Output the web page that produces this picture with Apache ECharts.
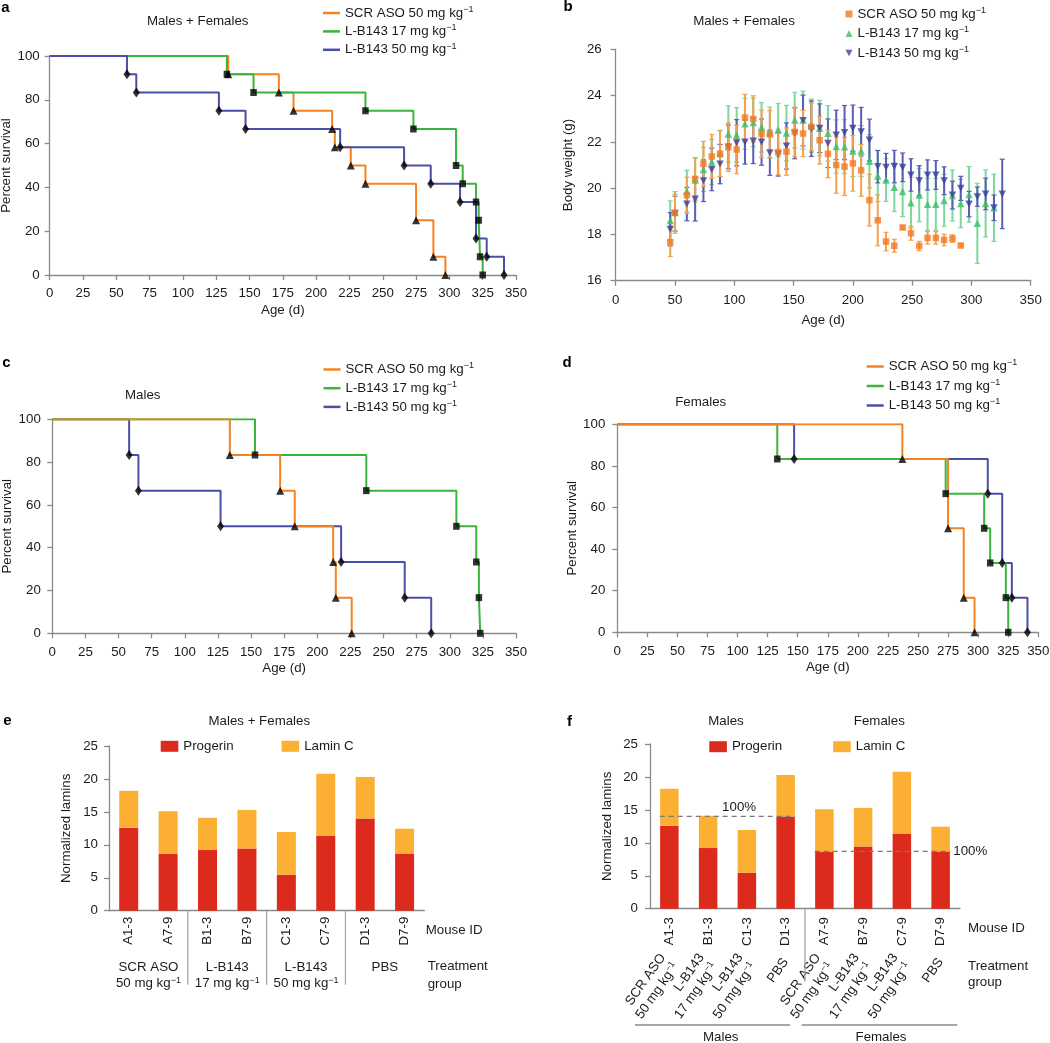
<!DOCTYPE html>
<html>
<head>
<meta charset="utf-8">
<title>Survival, body weight and lamin levels</title>
<script src="https://cdn.jsdelivr.net/npm/echarts@6/dist/echarts.min.js"></script>
<style>
html,body{margin:0;padding:0;background:#ffffff;width:1050px;height:1043px;overflow:hidden;}
.panel{position:absolute;left:0;top:0;width:1050px;height:1043px;}
</style>
</head>
<body>
<div id="pa" class="panel"></div>
<div id="pb" class="panel"></div>
<div id="pc" class="panel"></div>
<div id="pd" class="panel"></div>
<div id="pe" class="panel"></div>
<div id="pf" class="panel"></div>
<script>
// ================= DATA =================
// Group names (each followed by superscript "−1")
const groupNames = ['SCR ASO 50 mg kg', 'L-B143 17 mg kg', 'L-B143 50 mg kg'];

// Panel a: Males + Females survival (day of event, % surviving after event)
const kmAllScrDays = [0, 134, 172, 183, 212, 214, 226, 237, 275, 288, 297];
const kmAllScrSurv = [100, 91.67, 83.33, 75, 66.67, 58.33, 50, 41.67, 25, 8.33, 0];
const kmAllL17Days = [0, 133, 153, 237, 273, 305, 310, 320, 322, 323, 325];
const kmAllL17Surv = [100, 91.67, 83.33, 75, 66.67, 50, 41.67, 33.33, 25, 8.33, 0];
const kmAllL50Days = [0, 58, 65, 127, 147, 218, 266, 286, 308, 320, 328, 341];
const kmAllL50Surv = [100, 91.67, 83.33, 75, 66.67, 58.33, 50, 41.67, 33.33, 16.67, 8.33, 0];

// Panel c: Males survival
const kmMScrDays = [0, 134, 172, 183, 212, 214, 226];
const kmMScrSurv = [100, 83.33, 66.67, 50, 33.33, 16.67, 0];
const kmML17Days = [0, 153, 237, 305, 320, 322, 323];
const kmML17Surv = [100, 83.33, 66.67, 50, 33.33, 16.67, 0];
const kmML50Days = [0, 58, 65, 127, 218, 266, 286];
const kmML50Surv = [100, 83.33, 66.67, 50, 33.33, 16.67, 0];

// Panel d: Females survival
const kmFScrDays = [0, 237, 275, 288, 297];
const kmFScrSurv = [100, 83.33, 50, 16.67, 0];
const kmFL17Days = [0, 133, 273, 305, 310, 323, 325];
const kmFL17Surv = [100, 83.33, 66.67, 50, 33.33, 16.67, 0];
const kmFL50Days = [0, 147, 308, 320, 328, 341];
const kmFL50Surv = [100, 83.33, 66.67, 33.33, 16.67, 0];

// Panel b: body weight (g), mean and error half-width
const bwDays = [46,50,60,67,74,81,88,95,102,109,116,123,130,137,144,151,158,165,172,179,186,193,200,207,214,221,228,235,242,249,256,263,270,277,284,291,298,305,312,319,326];
const bwScrMean = [17.67,18.94,19.69,20.40,21.05,21.37,21.49,21.77,21.67,23.05,22.99,22.35,22.33,21.56,21.58,22.43,22.36,22.65,22.07,21.48,21.00,20.93,21.07,20.77,19.48,18.61,17.69,17.51,18.30,18.05,17.50,17.85,17.85,17.76,17.82,17.52];
const bwScrErr = [0.62,0.8,0.78,0.92,0.97,0.95,0.98,1.05,1.05,1.0,1.0,1.02,1.02,0.98,1.02,1.07,1.0,1.03,1.03,1.03,1.22,1.25,1.2,1.12,1.12,1.1,0.4,0.28,0.08,0.3,0.2,0.27,0.27,0.25,0.16,0.05];
const bwL17Mean = [18.60,18.95,19.87,20.35,20.81,21.13,21.50,22.34,22.30,22.78,22.84,22.63,22.40,22.51,22.38,22.94,22.94,22.70,22.59,22.37,21.80,21.79,21.60,21.60,21.16,20.52,20.35,20.04,19.85,19.37,19.70,19.30,19.30,19.47,19.68,19.34,19.73,18.48,19.34,19.15];
const bwL17Err = [0.85,0.9,0.9,0.95,0.95,0.98,1.0,1.22,1.18,1.1,1.05,1.07,1.1,1.15,1.2,1.2,1.25,1.15,1.2,1.2,1.15,1.17,1.1,1.1,1.15,1.1,0.92,1.05,1.08,1.1,1.15,1.12,1.12,1.12,1.1,1.05,1.2,1.73,1.45,1.45];
const bwL50Mean = [18.22,18.90,19.31,19.53,20.32,20.81,21.04,21.78,21.96,21.99,22.04,21.99,21.53,21.47,21.82,22.37,22.92,22.57,22.59,21.94,22.30,22.40,22.59,22.44,22.08,20.93,20.90,20.93,20.90,20.57,20.32,20.57,20.57,20.32,19.70,19.99,19.31,19.63,19.75,19.15,19.75];
const bwL50Err = [0.72,0.75,0.72,0.95,0.9,0.92,0.85,0.95,1.0,0.95,0.98,1.0,0.98,0.95,1.0,1.1,1.1,1.2,1.05,1.05,1.07,1.17,1.0,1.05,0.9,0.7,0.6,0.7,0.62,0.7,0.65,0.65,0.62,0.6,0.6,0.52,0.55,0.42,0.68,0.55,1.5];

// Panels e/f: normalized lamins
const mouseIds = ['A1-3', 'A7-9', 'B1-3', 'B7-9', 'C1-3', 'C7-9', 'D1-3', 'D7-9'];
const progerin = [12.6, 8.6, 9.2, 9.45, 5.45, 11.35, 14.0, 8.7];
const laminC = [5.6, 6.5, 4.9, 5.85, 6.5, 9.45, 6.3, 3.75];
const treatmentGroups = ['SCR ASO|50 mg kg', 'L-B143|17 mg kg', 'L-B143|50 mg kg', 'PBS'];
const mouseIdsBySex = ['A1-3', 'B1-3', 'C1-3', 'D1-3', 'A7-9', 'B7-9', 'C7-9', 'D7-9'];
const treatmentBySex = treatmentGroups.concat(treatmentGroups);

// ================= STYLE =================
const FONT = '"Liberation Sans", Arial, Helvetica, sans-serif';
const FS = 13.3;
const AX = '#8a8a8a';
const TXT = '#1b1b1b';
const C_SCR = '#F5821F', C_L17 = '#3BB43A', C_L50 = '#4A4EA8';

const richSup = {
  n: {fontSize: FS, fontFamily: FONT, color: TXT, lineHeight: 16},
  s: {fontSize: 9, fontFamily: FONT, color: TXT, lineHeight: 9, verticalAlign: 'top'}
};
const supFmt = n => '{n|' + n + '}{s|−1}';
const trtFmt = v => {
  const p = v.split('|');
  return p.length === 2 ? '{n|' + p[0] + '}\n{n|' + p[1] + '}{s|−1}' : '{n|' + v + '}';
};

function txt(x, y, text, extra) {
  return {type: 'text', x: x, y: y, silent: true, z: 50,
    style: Object.assign({text: text, fontSize: FS, fontFamily: FONT, fill: TXT, align: 'center', verticalAlign: 'middle'}, extra || {})};
}
function letter(x, y, t) { return txt(x, y, t, {fontWeight: 'bold', fontSize: 15, fill: '#000'}); }
function hline(x1, y1, x2, y2, color, w) {
  return {type: 'line', silent: true, z: 50, shape: {x1: x1, y1: y1, x2: x2, y2: y2}, style: {stroke: color, lineWidth: w}};
}

function valueAxis(o) {
  return Object.assign({
    type: 'value', min: o.min, max: o.max, interval: o.interval,
    axisLine: {show: true, onZero: false, lineStyle: {color: AX, width: 1.3}},
    axisTick: {show: true, inside: false, length: 5, lineStyle: {color: AX, width: 1.3}},
    axisLabel: {show: true, margin: o.margin, fontSize: FS, fontFamily: FONT, color: TXT, showMinLabel: true, showMaxLabel: true},
    splitLine: {show: false}, splitArea: {show: false},
    name: o.name, nameLocation: 'middle', nameGap: o.nameGap,
    nameTextStyle: {fontSize: FS, fontFamily: FONT, color: TXT}
  }, o.extra || {});
}
function gridOf(l, t, w, h) {
  return {left: l, top: t, width: w, height: h, containLabel: false, outerBoundsMode: 'none'};
}

// ================= KAPLAN–MEIER PANELS =================
function kmChart(id, cfg) {
  const ch = echarts.init(document.getElementById(id));
  const series = [];
  cfg.groups.forEach(g => {
    series.push({name: g.name, type: 'line', step: 'end', data: g.days.map((d, i) => [d, g.surv[i]]),
      symbol: 'none', color: g.color, lineStyle: {color: g.color, width: 2}, z: g.z, silent: true, animation: false});
  });
  cfg.groups.forEach(g => {
    series.push({name: g.name + ' events', type: 'scatter', data: g.days.slice(1).map((d, i) => [d, g.surv[i + 1]]),
      symbol: g.symbol, symbolSize: g.size, itemStyle: {color: '#000'}, z: 8, silent: true, animation: false});
  });
  ch.setOption({
    backgroundColor: 'transparent', animation: false,
    grid: gridOf(cfg.grid[0], cfg.grid[1], cfg.grid[2], cfg.grid[3]),
    xAxis: valueAxis({min: 0, max: 350, interval: 25, margin: cfg.xMargin, name: 'Age (d)', nameGap: cfg.xNameGap}),
    yAxis: valueAxis({min: 0, max: 100, interval: 20, margin: cfg.yMargin, name: 'Percent survival', nameGap: cfg.yNameGap}),
    legend: {orient: 'vertical', left: cfg.legend[0], top: cfg.legend[1], itemGap: cfg.legend[2], padding: 0,
      itemWidth: 17, itemHeight: 2.5, icon: 'rect', selectedMode: false, data: groupNames,
      formatter: supFmt, textStyle: {fontSize: FS, fontFamily: FONT, color: TXT, rich: richSup}},
    graphic: {elements: cfg.graphic},
    series: series
  });
}

const mk = (days, surv, name, color, symbol, size, z) => ({days, surv, name, color, symbol, size, z});

kmChart('pa', {
  grid: [49.7, 56, 466.3, 219], xMargin: 12, xNameGap: 29, yMargin: 10, yNameGap: 37,
  legend: [323, 5, 3.9],
  groups: [
    mk(kmAllScrDays, kmAllScrSurv, groupNames[0], C_SCR, 'triangle', [8, 8], 2),
    mk(kmAllL17Days, kmAllL17Surv, groupNames[1], C_L17, 'rect', [6.5, 7], 3),
    mk(kmAllL50Days, kmAllL50Surv, groupNames[2], C_L50, 'diamond', [7, 10], 4)
  ],
  graphic: [letter(5.5, 7.5, 'a'), txt(197.7, 21, 'Males + Females')]
});

kmChart('pc', {
  grid: [52.3, 419.3, 463.7, 214], xMargin: 13, xNameGap: 29, yMargin: 11.5, yNameGap: 38,
  legend: [323.5, 361.5, 4.2],
  groups: [
    mk(kmMScrDays, kmMScrSurv, groupNames[0], C_SCR, 'triangle', [8, 8], 4),
    mk(kmML17Days, kmML17Surv, groupNames[1], C_L17, 'rect', [6.5, 7], 3),
    mk(kmML50Days, kmML50Surv, groupNames[2], C_L50, 'diamond', [7, 10], 2)
  ],
  graphic: [letter(6.3, 363, 'c'), txt(142.7, 395, 'Males')]
});

kmChart('pd', {
  grid: [617.3, 424.3, 421, 208], xMargin: 13, xNameGap: 29, yMargin: 12, yNameGap: 37,
  legend: [866.7, 358.5, 5],
  groups: [
    mk(kmFScrDays, kmFScrSurv, groupNames[0], C_SCR, 'triangle', [8, 8], 4),
    mk(kmFL17Days, kmFL17Surv, groupNames[1], C_L17, 'rect', [6.5, 7], 3),
    mk(kmFL50Days, kmFL50Surv, groupNames[2], C_L50, 'diamond', [7, 10], 2)
  ],
  graphic: [letter(567, 363, 'd'), txt(700.7, 402.7, 'Females')]
});

// ================= BODY WEIGHT PANEL =================
(function () {
  const ch = echarts.init(document.getElementById('pb'));
  function errBars(mean, err, color, z) {
    return {type: 'custom', silent: true, z: z, animation: false,
      data: mean.map((m, i) => [bwDays[i], m - err[i], m + err[i]]),
      encode: {x: 0, y: [1, 2]},
      renderItem: function (params, api) {
        const x = api.value(0);
        const lo = api.coord([x, api.value(1)]);
        const hi = api.coord([x, api.value(2)]);
        const cw = 2.5;
        return {type: 'group', children: [
          {type: 'line', shape: {x1: lo[0], y1: lo[1], x2: hi[0], y2: hi[1]}, style: {stroke: color, lineWidth: 2}},
          {type: 'line', shape: {x1: lo[0] - cw, y1: lo[1], x2: lo[0] + cw, y2: lo[1]}, style: {stroke: color, lineWidth: 1.2}},
          {type: 'line', shape: {x1: hi[0] - cw, y1: hi[1], x2: hi[0] + cw, y2: hi[1]}, style: {stroke: color, lineWidth: 1.2}}
        ]};
      }};
  }
  function points(mean, name, color, symbol, size, z) {
    return {name: name, type: 'scatter', data: mean.map((m, i) => [bwDays[i], m]), symbol: symbol, symbolSize: size,
      itemStyle: {color: color}, z: z, silent: true, animation: false};
  }
  const INV_TRI = 'path://M0,0L10,0L5,9Z';
  ch.setOption({
    backgroundColor: 'transparent', animation: false,
    grid: gridOf(615.7, 49.3, 415, 231.4),
    xAxis: valueAxis({min: 0, max: 350, interval: 50, margin: 13, name: 'Age (d)', nameGap: 33}),
    yAxis: valueAxis({min: 16, max: 26, interval: 2, margin: 14, name: 'Body weight (g)', nameGap: 41}),
    legend: {orient: 'vertical', left: 845.5, top: 6, itemGap: 5, padding: 0, itemWidth: 7, itemHeight: 7,
      selectedMode: false, data: groupNames, formatter: supFmt,
      textStyle: {fontSize: FS, fontFamily: FONT, color: TXT, rich: richSup}},
    graphic: {elements: [letter(568, 7, 'b'), txt(744, 21, 'Males + Females')]},
    series: [
      errBars(bwL17Mean, bwL17Err, '#7FD69C', 2),
      errBars(bwL50Mean, bwL50Err, '#5A5EB6', 3),
      errBars(bwScrMean, bwScrErr, '#F6A04E', 4),
      points(bwScrMean, groupNames[0], '#F47B20', 'rect', 6.5, 7),
      points(bwL17Mean, groupNames[1], '#3CC16A', 'triangle', 7.5, 5),
      points(bwL50Mean, groupNames[2], '#3A3EA2', INV_TRI, [7.5, 7], 6)
    ]
  });
})();

// ================= LAMIN PANELS =================
const C_PRO = '#DC2A1C', C_LAM = '#FBB034';
function catAxis(data, margin, extra) {
  return Object.assign({
    type: 'category', data: data, position: 'bottom',
    axisLine: {show: true, onZero: false, lineStyle: {color: AX, width: 1.3}},
    axisTick: {show: false},
    axisLabel: {interval: 0, rotate: 90, margin: margin, fontSize: FS, fontFamily: FONT, color: TXT},
    splitLine: {show: false}, splitArea: {show: false}
  }, extra || {});
}
function lamLegend(left, top, gap) {
  return {left: left, top: top, itemWidth: 17.6, itemHeight: 11, itemGap: gap, icon: 'rect', padding: 0,
    selectedMode: false, data: ['Progerin', 'Lamin C'], textStyle: {fontSize: FS, fontFamily: FONT, color: TXT}};
}
function separators(ch, ids, bounds, len) {
  const y0 = ch.convertToPixel({yAxisIndex: 0}, 0);
  return bounds.map(b => {
    const x = (ch.convertToPixel({xAxisIndex: 0}, ids[b - 1]) + ch.convertToPixel({xAxisIndex: 0}, ids[b])) / 2;
    return hline(x, y0, x, y0 + len, '#a8a8a8', 1.3);
  });
}

// Panel e
(function () {
  const ch = echarts.init(document.getElementById('pe'));
  ch.setOption({
    backgroundColor: 'transparent', animation: false,
    grid: gridOf(109, 746, 315.3, 164.7),
    legend: lamLegend(160.7, 739.8, 48),
    xAxis: [
      catAxis(mouseIds, 6),
      catAxis(treatmentGroups, 49, {axisLine: {show: false},
        axisLabel: {interval: 0, rotate: 0, margin: 49, formatter: trtFmt, rich: richSup, fontSize: FS, fontFamily: FONT, color: TXT}})
    ],
    yAxis: valueAxis({min: 0, max: 25, interval: 5, margin: 11, name: 'Normalized lamins', nameGap: 36}),
    series: [
      {name: 'Progerin', type: 'bar', stack: 'lam', data: progerin, barWidth: 19, itemStyle: {color: C_PRO}, silent: true},
      {name: 'Lamin C', type: 'bar', stack: 'lam', data: laminC, barWidth: 19, itemStyle: {color: C_LAM}, silent: true}
    ]
  });
  const g = [letter(7.5, 720.5, 'e'), txt(259.3, 721.7, 'Males + Females'),
    txt(425.7, 930.7, 'Mouse ID', {align: 'left'}),
    txt(427.7, 966, 'Treatment', {align: 'left'}), txt(427.7, 984, 'group', {align: 'left'})
  ].concat(separators(ch, mouseIds, [2, 4, 6], 74));
  ch.setOption({graphic: {elements: g}});
})();

// Panel f
(function () {
  const ch = echarts.init(document.getElementById('pf'));
  const proF = mouseIdsBySex.map(id => progerin[mouseIds.indexOf(id)]);
  const lamF = mouseIdsBySex.map(id => laminC[mouseIds.indexOf(id)]);
  const maleRef = progerin[mouseIds.indexOf('D1-3')];
  const femaleRef = progerin[mouseIds.indexOf('D7-9')];
  const dashStyle = {type: [5, 4], color: '#7a7a7a', width: 1.3};
  const lbl = (pos) => ({show: true, position: pos, distance: 3, formatter: '100%', fontSize: FS, fontFamily: FONT, color: TXT});
  ch.setOption({
    backgroundColor: 'transparent', animation: false,
    grid: gridOf(650, 744, 310, 164.7),
    legend: lamLegend(709.3, 740.2, 51),
    xAxis: [
      catAxis(mouseIdsBySex, 8.5),
      catAxis(treatmentBySex, 51, {axisLine: {show: false},
        axisLabel: {interval: 0, rotate: 55, margin: 51, formatter: trtFmt, rich: richSup, fontSize: FS, fontFamily: FONT, color: TXT}}),
      {type: 'value', min: -0.5, max: 7.5, show: false, position: 'bottom'}
    ],
    yAxis: valueAxis({min: 0, max: 25, interval: 5, margin: 12, name: 'Normalized lamins', nameGap: 36}),
    series: [
      {name: 'Progerin', type: 'bar', stack: 'lam', data: proF, barWidth: 18.5, itemStyle: {color: C_PRO}, silent: true},
      {name: 'Lamin C', type: 'bar', stack: 'lam', data: lamF, barWidth: 18.5, itemStyle: {color: C_LAM}, silent: true},
      {type: 'line', xAxisIndex: 2, z: 6, silent: true, symbol: 'circle', symbolSize: 0.01, showSymbol: true,
        lineStyle: dashStyle, itemStyle: {color: '#7a7a7a'}, label: {show: false},
        data: [[-0.25, maleRef], {value: [1.8, maleRef], label: lbl('top')}, [3.25, maleRef]]},
      {type: 'line', xAxisIndex: 2, z: 6, silent: true, symbol: 'circle', symbolSize: 0.01, showSymbol: true,
        lineStyle: dashStyle, itemStyle: {color: '#7a7a7a'}, label: {show: false},
        data: [[3.75, femaleRef], {value: [7.25, femaleRef], label: lbl('right')}]}
    ]
  });
  const g = [letter(569.5, 721.5, 'f'), txt(726, 721.7, 'Males'), txt(879.3, 721.7, 'Females'),
    txt(968, 928.7, 'Mouse ID', {align: 'left'}),
    txt(968, 966.7, 'Treatment', {align: 'left'}), txt(968, 982.7, 'group', {align: 'left'}),
    hline(635, 1025, 790, 1025, '#8a8a8a', 1.3), hline(801.7, 1025, 957.3, 1025, '#8a8a8a', 1.3),
    txt(720.7, 1037.5, 'Males'), txt(881, 1037.5, 'Females')
  ].concat(separators(ch, mouseIdsBySex, [4], 73));
  ch.setOption({graphic: {elements: g}});
})();
</script>
</body>
</html>
